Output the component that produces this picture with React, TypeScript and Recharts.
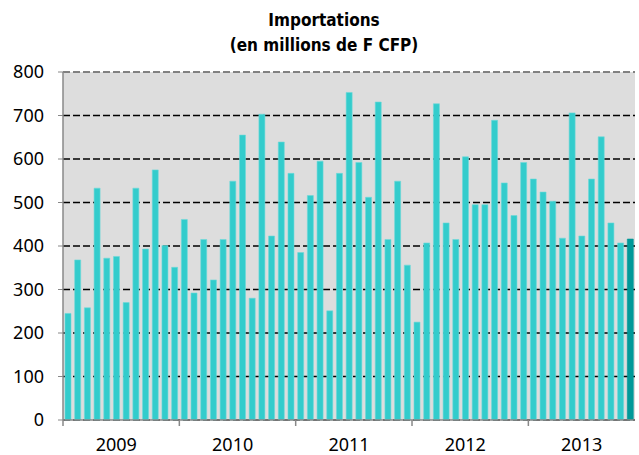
import React from 'react';
import { BarChart, Bar, XAxis, YAxis, CartesianGrid, ReferenceLine, Cell } from 'recharts';

const years = ['2009', '2010', '2011', '2012', '2013'];

// monthly imports, Jan 2009 -> Nov 2013
const imports2009 = [245, 368, 258, 533, 372, 376, 270, 533, 393, 575, 401, 351];
const imports2010 = [461, 292, 415, 322, 415, 549, 655, 280, 703, 423, 639, 567];
const imports2011 = [385, 516, 595, 251, 567, 753, 592, 512, 731, 415, 549, 356];
const imports2012 = [225, 407, 727, 453, 415, 605, 495, 495, 689, 545, 470, 592];
const imports2013 = [554, 524, 503, 418, 706, 423, 554, 651, 453, 407, 416];

const yTicks = [0, 100, 200, 300, 400, 500, 600, 700, 800];

const allValues = [...imports2009, ...imports2010, ...imports2011, ...imports2012, ...imports2013];
const data = allValues.map((value, i) => ({
  idx: i,
  year: years[Math.floor(i / 12)],
  month: i % 12,
  value,
}));

const tickFont = "'Noto Sans', 'Open Sans', sans-serif";

const YearTick = (props: any) => {
  const { x, y, payload } = props;
  const row = data[payload.value];
  if (!row) return null;
  const half = payload.offset || 0;
  return (
    <g>
      {row.month === 0 && (
        <line x1={x - half} x2={x - half} y1={y} y2={y + 6} stroke="#888" strokeWidth={1.5} />
      )}
      {row.month === 5 && (
        <text x={x} y={y + 31} textAnchor="middle" fontSize={18} fontFamily={tickFont} fill="#000">
          {row.year}
        </text>
      )}
    </g>
  );
};

export default function App() {
  return (
    <div style={{ position: 'absolute', left: 0, top: 0, width: 639, height: 455, background: '#fff' }}>
      <div
        style={{
          position: 'absolute',
          left: 0,
          top: 8,
          width: 648,
          textAlign: 'center',
          fontFamily: "'DejaVu Sans Condensed', 'DejaVu Sans', sans-serif",
          fontStretch: 'condensed',
          fontWeight: 'bold',
          fontSize: 17,
          lineHeight: '25px',
          color: '#000',
        }}
      >
        Importations
        <br />
        (en millions de F CFP)
      </div>
      <BarChart
        width={639}
        height={455}
        data={data}
        margin={{ top: 72, right: 4, left: 0, bottom: 5 }}
      >
        <CartesianGrid vertical={false} stroke="#000" strokeWidth={1.4} strokeDasharray="7 3" fill="#DDDDDD" />
        <ReferenceLine y={800} stroke="#999" strokeWidth={1.4} strokeDasharray="7 3" />
        <XAxis
          dataKey="idx"
          interval={0}
          tickLine={false}
          tickSize={0}
          tickMargin={0}
          height={30}
          axisLine={{ stroke: '#888', strokeWidth: 1.5 }}
          tick={<YearTick />}
        />
        <YAxis
          domain={[0, 800]}
          ticks={yTicks}
          width={63}
          tickSize={5}
          tickMargin={14}
          axisLine={{ stroke: '#888', strokeWidth: 1.5 }}
          tickLine={{ stroke: '#888' }}
          tick={{ fill: '#000', fontSize: 18, fontFamily: tickFont }}
        />
        <Bar dataKey="value" barSize={6} fill="#33CCCC" isAnimationActive={false}>
          {data.map((d, i) => (
            <Cell
              key={i}
              fill={i === data.length - 1 ? '#009999' : '#33CCCC'}
              stroke={i === data.length - 1 ? '#009999' : '#6BDADA'}
              strokeWidth={0.6}
            />
          ))}
        </Bar>
      </BarChart>
    </div>
  );
}
